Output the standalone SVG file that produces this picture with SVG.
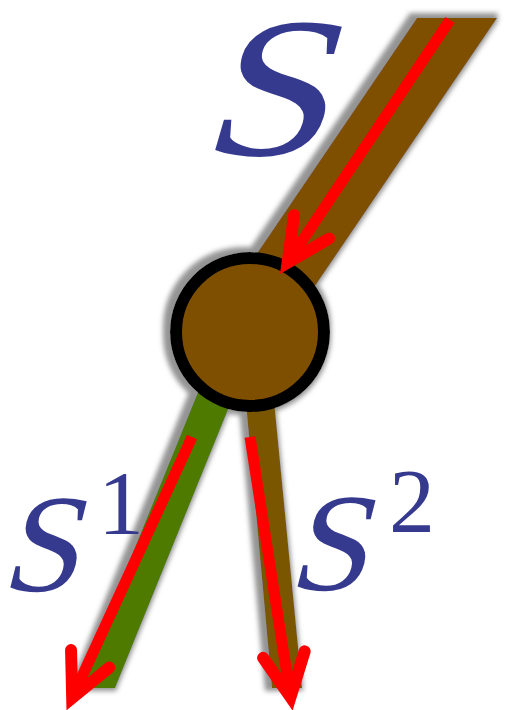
<svg xmlns="http://www.w3.org/2000/svg" width="505" height="710" viewBox="0 0 505 710">
<style>
.lbl{font-family:"Liberation Serif","DejaVu Serif",serif;fill:#353a8f}
.flow{stroke:#ff0000;stroke-width:11;fill:none;marker-end:url(#ah)}
</style>
<defs>
<filter id="halo" x="-20%" y="-20%" width="140%" height="140%">
<feMorphology in="SourceAlpha" operator="dilate" radius="4" result="d"/>
<feGaussianBlur in="d" stdDeviation="2.5" result="b"/>
<feOffset in="b" dx="-3" dy="-1" result="o"/>
<feFlood flood-color="#949494"/>
<feComposite in2="o" operator="in" result="s"/>
<feMerge><feMergeNode in="s"/><feMergeNode in="SourceGraphic"/></feMerge>
</filter>
<marker id="ah" markerUnits="userSpaceOnUse" orient="auto" refX="0" refY="0" markerWidth="70" markerHeight="60" overflow="visible">
<path d="M-43,-21 L0,0 L-43,21" fill="none" stroke="#ff0000" stroke-width="12" stroke-linejoin="miter" stroke-linecap="round"/>
</marker>
</defs>
<rect width="505" height="710" fill="#ffffff"/>
<g filter="url(#halo)">
<g id="connectors-bands">
<polygon points="417,18 497,18 285,330 205,330" fill="#7f4f00"/>
<polygon points="207,370 244,370 115,688 78,688" fill="#4f7a00"/>
<polygon points="243,370 271,370 302,688 272,688" fill="#7a5600"/>
</g>
<g id="node-junction">
<circle cx="250" cy="332" r="74" fill="#7f4f00" stroke="#000000" stroke-width="12"/>
</g>
</g>
<g id="connectors">
<line class="flow" x1="450" y1="20" x2="287.6" y2="262.7"/>
<line class="flow" x1="192" y1="437" x2="72.2" y2="697.9"/>
<line class="flow" x1="250" y1="437" x2="290.5" y2="697.1"/>
</g>
<g id="label-S">
<text class="lbl" font-size="200" transform="translate(198,155) scale(1.16,1) skewX(-14)">S</text>
</g>
<g id="label-S1">
<text class="lbl" font-size="140" transform="translate(0,591) scale(1.0,1) skewX(-14)">S</text>
<text class="lbl" x="98" y="534" font-size="92">1</text>
</g>
<g id="label-S2">
<text class="lbl" font-size="140" transform="translate(287,590) scale(1.02,1) skewX(-14)">S</text>
<text class="lbl" x="389" y="532" font-size="92">2</text>
</g>
</svg>
